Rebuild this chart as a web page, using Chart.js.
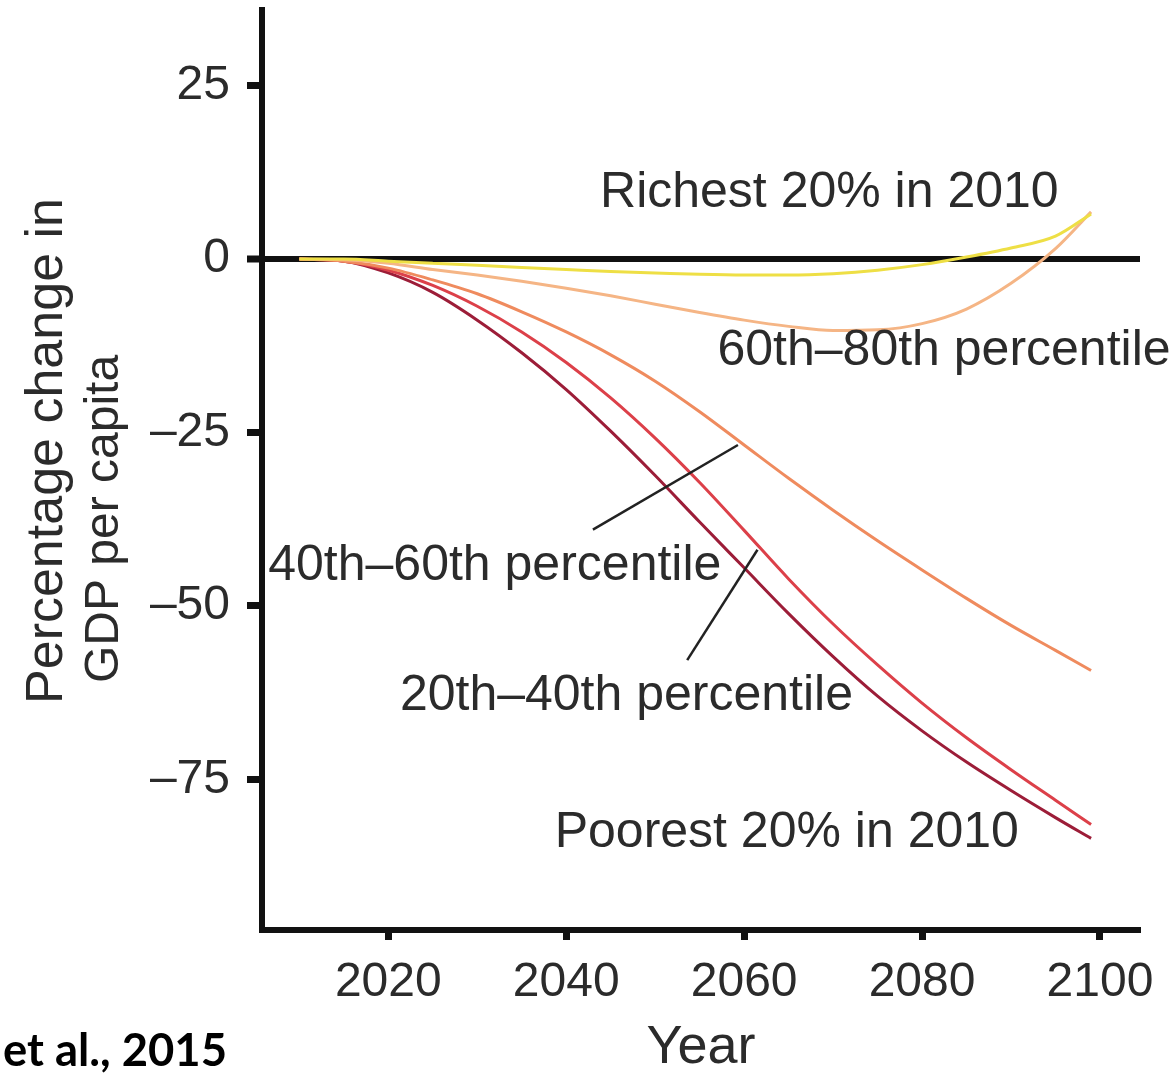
<!DOCTYPE html>
<html><head><meta charset="utf-8">
<script src="https://cdn.jsdelivr.net/npm/chart.js@4.4.0/dist/chart.umd.min.js"></script>
<style>html,body{margin:0;padding:0;background:#fff;}canvas{display:block;}</style>
</head><body>
<canvas id="c" width="1171" height="1085"></canvas>
<script>
// ---- data ----
const years      = [2010,2015,2020,2025,2030,2035,2040,2045,2050,2055,2060,2065,2070,2075,2080,2085,2090,2095,2099];
const richest20  = [0,0,-0.3,-0.6,-0.9,-1.2,-1.5,-1.8,-2.0,-2.2,-2.3,-2.3,-2.1,-1.6,-0.8,0.3,1.6,3.3,6.5];
const pct60to80  = [0,-0.1,-0.6,-1.5,-2.3,-3.2,-4.2,-5.3,-6.5,-7.7,-8.8,-9.7,-10.3,-10.2,-9.3,-7.2,-3.5,1.5,6.8];
const pct40to60  = [0,-0.3,-1.3,-3.0,-5.0,-7.6,-10.5,-13.8,-17.6,-22.0,-26.8,-31.6,-36.2,-40.6,-44.8,-48.9,-52.8,-56.4,-59.3];
const pct20to40  = [0,-0.3,-1.6,-3.8,-6.8,-10.5,-14.9,-20.0,-25.8,-32.2,-39.1,-46.1,-52.6,-58.5,-64.0,-69.0,-73.6,-78.0,-81.5];
const poorest20  = [0,-0.3,-2.0,-4.8,-8.8,-13.5,-18.8,-24.8,-31.2,-37.9,-44.5,-51.1,-57.3,-63.0,-68.0,-72.5,-76.6,-80.5,-83.5];
const xTicks = [2020,2040,2060,2080,2100];
const yTicks = [25,0,-25,-50,-75];
const seriesNames = ['Richest 20% in 2010','60th–80th percentile','40th–60th percentile','20th–40th percentile','Poorest 20% in 2010'];

// ---- styling / annotation placement ----
const FONT = "'Liberation Sans', Arial, Helvetica, sans-serif";
const TEXT = '#2b2b2b';
const colors = ['#eedf45','#f5b585','#ef8b5e','#dc4049','#9c1d38'];
const labelPos = [ // [x (year), y (value)] of text baseline-left
  [2043.8, 7.5], [2057.0, -15.3], [2006.5, -46.3], [2021.3, -65.0], [2038.7, -84.7]
];
const leaders = [ // [x1,y1,x2,y2] in data units
  [2043.0,-39.0,2059.3,-26.8],
  [2053.6,-57.8,2061.5,-41.9]
];

const seriesValues = [richest20,pct60to80,pct40to60,pct20to40,poorest20];
const datasets = seriesValues.map((vals,i)=>({
  label: seriesNames[i],
  data: years.map((y,j)=>({x:y,y:vals[j]})),
  borderColor: colors[i],
  borderWidth: 3,
  pointRadius: 0,
  fill: false,
  cubicInterpolationMode: 'monotone'
}));

const annotPlugin = {
  id: 'annot',
  afterDatasetsDraw(chart){
    const ctx = chart.ctx, xs = chart.scales.x, ys = chart.scales.y;
    ctx.save();
    ctx.strokeStyle = '#222'; ctx.lineWidth = 2.5;
    leaders.forEach(l=>{
      ctx.beginPath();
      ctx.moveTo(xs.getPixelForValue(l[0]), ys.getPixelForValue(l[1]));
      ctx.lineTo(xs.getPixelForValue(l[2]), ys.getPixelForValue(l[3]));
      ctx.stroke();
    });
    ctx.fillStyle = TEXT;
    ctx.font = '50px ' + FONT;
    ctx.textAlign = 'left'; ctx.textBaseline = 'alphabetic';
    seriesNames.forEach((t,i)=>{
      ctx.fillText(t, xs.getPixelForValue(labelPos[i][0]), ys.getPixelForValue(labelPos[i][1]));
    });
    ctx.restore();
  },
  afterDraw(chart){
    const ctx = chart.ctx;
    ctx.save();
    ctx.fillStyle = TEXT;
    ctx.textAlign = 'center'; ctx.textBaseline = 'alphabetic';
    ctx.font = '52px ' + FONT;
    ctx.save(); ctx.translate(62, 451); ctx.rotate(-Math.PI/2); ctx.fillText('Percentage change in', 0, 0); ctx.restore();
    ctx.font = '48px ' + FONT;
    ctx.save(); ctx.translate(118, 519); ctx.rotate(-Math.PI/2); ctx.fillText('GDP per capita', 0, 0); ctx.restore();
    // source note (cut off in the original slide)
    ctx.fillStyle = '#000';
    let size = 46;
    ctx.font = 'bold ' + size + "px Lato, 'Open Sans', sans-serif";
    const w = ctx.measureText('et al., 2015').width;
    size = size * 224 / w;
    ctx.font = 'bold ' + size.toFixed(1) + "px Lato, 'Open Sans', sans-serif";
    ctx.textAlign = 'left';
    ctx.fillText('et al., 2015', 3, 1066);
    ctx.restore();
  }
};

function noPad(s){ s.paddingLeft=0; s.paddingRight=0; s.paddingTop=0; s.paddingBottom=0; }

new Chart(document.getElementById('c'), {
  type: 'line',
  data: { datasets },
  options: {
    responsive: false, maintainAspectRatio: false, devicePixelRatio: 1, animation: false,
    layout: { padding: { left: 0, top: 10, right: 31, bottom: 0 } },
    plugins: { legend: { display: false }, tooltip: { enabled: false } },
    scales: {
      x: {
        type: 'linear', min: 2005.8, max: 2104.5,
        afterBuildTicks: s => { s.ticks = xTicks.map(v=>({value:v})); },
        afterFit: s => { s.height = 155; noPad(s); },
        grid: { display: true, drawOnChartArea: false, drawTicks: true, tickLength: 10, tickWidth: 7, tickColor: '#111', color: 'rgba(0,0,0,0)', lineWidth: 1 },
        border: { display: true, color: '#111', width: 6 },
        ticks: { font: { family: FONT, size: 48 }, color: TEXT, padding: 14, maxRotation: 0, autoSkip: false, callback: v => String(v) },
        title: { display: true, text: 'Year', font: { family: FONT, size: 54 }, color: TEXT, padding: { top: 0, bottom: 4 } }
      },
      y: {
        type: 'linear', min: -96.7, max: 35.9,
        afterBuildTicks: s => { s.ticks = yTicks.map(v=>({value:v})); },
        afterFit: s => { s.width = 262; noPad(s); },
        grid: {
          display: true, drawOnChartArea: true, drawTicks: true, tickLength: 15, tickWidth: 7, tickColor: '#111',
          color: c => (c.tick && c.tick.value === 0) ? '#111' : 'rgba(0,0,0,0)',
          lineWidth: c => (c.tick && c.tick.value === 0) ? 6 : 1
        },
        border: { display: true, color: '#111', width: 6 },
        ticks: { font: { family: FONT, size: 48 }, color: TEXT, padding: 17, autoSkip: false, callback: v => v < 0 ? '–' + Math.abs(v) : String(v) }
      }
    }
  },
  plugins: [annotPlugin]
});
</script>
</body></html>
